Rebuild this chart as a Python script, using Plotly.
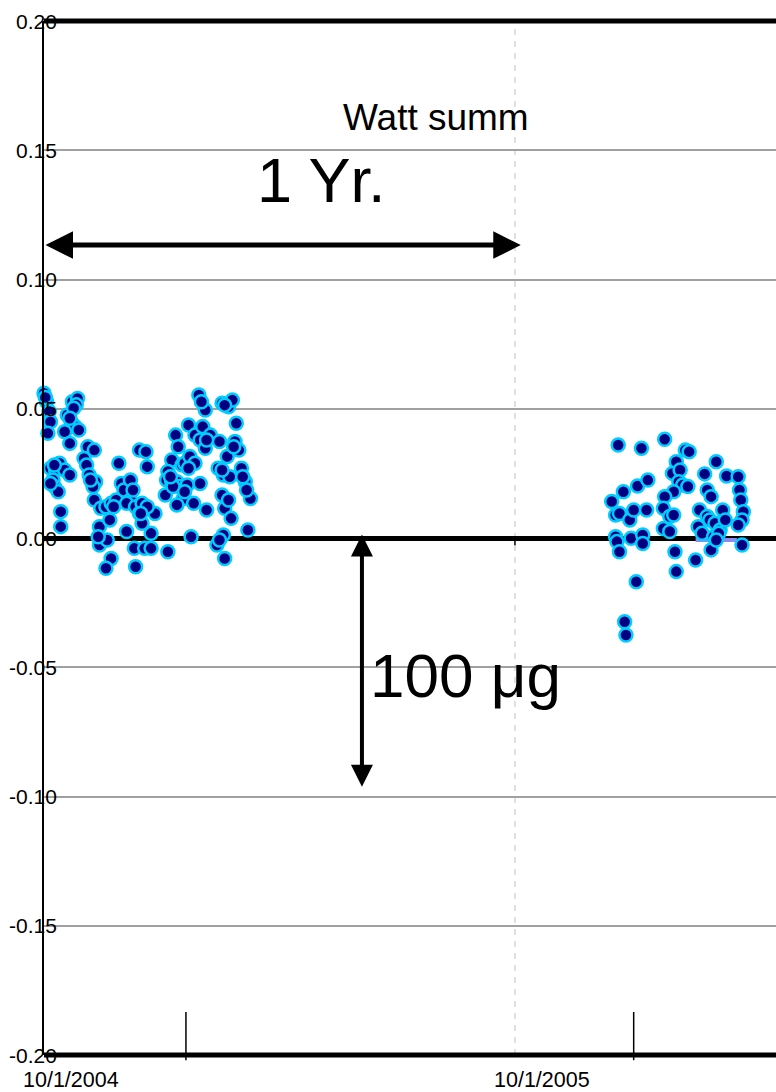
import pandas as pd
import plotly.graph_objects as go

START = pd.Timestamp("2004-10-01")

# ---- data: days since 10/1/2004 and values ----
c1_days = [0, 2, 4, 5, 3, 22, 26, 25, 18, 21, 24, 27, 16, 20, 5, 12, 9, 16, 20, 7, 8, 11, 13, 13,
           34, 39, 31, 33, 35, 40, 38, 39, 44, 43, 43, 48, 52, 56, 51, 49, 52, 48,
           58, 60, 62, 67, 67, 64, 64, 71, 74, 76, 76, 70, 71, 78, 74, 79, 80,
           120, 125, 138, 143, 146, 112, 102, 104, 117, 123, 121, 129, 125, 136,
           149, 148, 151, 142, 135, 139, 144, 153, 156, 160, 157,
           99, 96, 95, 99, 94, 103, 105, 107, 109, 113, 117, 111, 108, 103, 116, 121,
           138, 140, 145, 126, 114, 158, 134, 139, 140, 96, 83, 83, 86, 80,
           1, 23, 20, 36, 8, 5, 42, 54, 69, 75,
           140, 122, 126, 147, 138, 154, 100, 98, 112, 109, 143, 136]
c1_vals = [0.0560, 0.0527, 0.0489, 0.0450, 0.0405, 0.0527, 0.0540, 0.0515, 0.0476, 0.0450, 0.0431, 0.0418,
           0.0411, 0.0366, 0.0270, 0.0289, 0.0263, 0.0263, 0.0244, 0.0224, 0.0199, 0.0179, 0.0102, 0.0044,
           0.0353, 0.0340, 0.0308, 0.0282, 0.0244, 0.0218, 0.0199, 0.0147, 0.0115, 0.0044, -0.0027,
           0.0121, 0.0134, 0.0147, 0.0070, -0.0008, -0.0079, -0.0117,
           0.0289, 0.0211, 0.0186, 0.0224, 0.0147, 0.0134, 0.0025, 0.0121, 0.0095, 0.0134, 0.0057, -0.0040,
           -0.0111, -0.0040, 0.0340, 0.0334, 0.0276,
           0.0553, 0.0495, 0.0521, 0.0508, 0.0534, 0.0437, 0.0398, 0.0353, 0.0398, 0.0431, 0.0379, 0.0398,
           0.0347, 0.0373,
           0.0444, 0.0373, 0.0340, 0.0315, 0.0270, 0.0244, 0.0237, 0.0270, 0.0218, 0.0153, 0.0186,
           0.0302, 0.0257, 0.0224, 0.0218, 0.0166, 0.0218, 0.0199, 0.0282, 0.0289, 0.0315, 0.0289, 0.0205,
           0.0153, 0.0128, 0.0134, 0.0211,
           0.0166, 0.0115, 0.0076, 0.0108, 0.0005, 0.0031, -0.0027, 0.0012, -0.0079, -0.0053, 0.0018,
           -0.0040, 0.0095, 0.0121,
           0.0544, 0.0502, 0.0463, 0.0224, 0.0282, 0.0211, 0.0005, 0.0121, 0.0186, 0.0095,
           0.0514, 0.0527, 0.0379, 0.0353, 0.0263, 0.0237, 0.0199, 0.0237, 0.0270, 0.0179, 0.0147, -0.0008]

c2_days = [445, 463, 481, 497, 500, 490, 487, 493, 492, 495, 499, 488, 481, 480, 485, 488, 480, 485, 489,
           490, 505, 440, 449, 443, 446, 454, 457, 467, 460, 468, 443, 444, 446, 455, 464, 464, 459, 450,
           451, 512, 521, 529, 538, 539, 540, 542, 541, 538, 541, 508, 514, 517, 507, 510, 514, 516, 520,
           524, 526, 528, 519, 523, 517, 521]
c2_vals = [0.0360, 0.0347, 0.0382, 0.0340, 0.0334, 0.0295, 0.0250, 0.0263, 0.0218, 0.0205, 0.0199, 0.0179,
           0.0160, 0.0115, 0.0083, 0.0089, 0.0037, 0.0025, -0.0053, -0.0130, -0.0085, 0.0141, 0.0179,
           0.0089, 0.0095, 0.0070, 0.0108, 0.0108, 0.0201, 0.0224, 0.0005, -0.0014, -0.0053, -0.0001,
           0.0012, -0.0021, -0.0169, -0.0324, -0.0375, 0.0248, 0.0295, 0.0240, 0.0237, 0.0186, 0.0147,
           0.0102, 0.0070, 0.0050, -0.0027, 0.0108, 0.0186, 0.0160, 0.0044, 0.0018, 0.0083, 0.0070,
           0.0057, 0.0031, 0.0108, 0.0070, 0.0005, 0.0018, -0.0046, -0.0008]

mean_days = [505, 537]
mean_vals = [-0.0008, -0.0008]

yellow_days = [-4, -4]
yellow_vals = [0.0627, 0.0387]

y_ticks = [0.20, 0.15, 0.10, 0.05, 0.00, -0.05, -0.10, -0.15, -0.20]
x_label_days = [0, 365]
x_labels = ["10/1/2004", "10/1/2005"]
x_tick_days = [110, 457]

range_days = 567.3
yr_arrow_days = [0, 369.5]
yr_arrow_val = 0.1133
ug_arrow_day = 246.4
ug_arrow_vals = [0.0019, -0.0962]


def d(days):
    return START + pd.to_timedelta(days, unit="D")


FONT = "Liberation Sans, Arial, Helvetica, sans-serif"

fig = go.Figure()

fig.add_trace(go.Scatter(
    x=d(mean_days), y=mean_vals, mode="lines",
    line=dict(color="#8c8cf0", width=4), hoverinfo="skip", showlegend=False))

fig.add_trace(go.Scatter(
    x=d(c1_days + c2_days), y=c1_vals + c2_vals, mode="markers",
    marker=dict(size=13, color="#000080", line=dict(color="#00CCFF", width=2.5)),
    cliponaxis=False, showlegend=False))

fig.add_trace(go.Scatter(
    x=d(yellow_days), y=yellow_vals, mode="markers",
    marker=dict(symbol="square", size=4, color="#FFCC00"),
    cliponaxis=False, showlegend=False))

shapes = []
# dashed vertical line at 10/1/2005
shapes.append(dict(type="line", xref="x", yref="paper", x0=d(365), x1=d(365), y0=0, y1=1,
                   line=dict(color="#c0c0c0", width=1, dash="6px,6px"), layer="below"))
# top and bottom heavy lines
for yp in (0, 1):
    shapes.append(dict(type="line", xref="paper", yref="paper", x0=0, x1=1, y0=yp, y1=yp,
                       line=dict(color="black", width=5), layer="above"))
# vertical tick marks at bottom
for td in x_tick_days:
    shapes.append(dict(type="line", xref="x", yref="paper", x0=d(td), x1=d(td), y0=-0.005, y1=0.0416,
                       line=dict(color="black", width=1.5), layer="above"))
# small tick at zero line under dashed line
shapes.append(dict(type="line", xref="x", yref="y", x0=d(365), x1=d(365), y0=0, y1=-0.0028,
                   line=dict(color="black", width=1.5), layer="above"))

annotations = []
for v in y_ticks:
    annotations.append(dict(xref="paper", yref="y", x=0, y=v, text=f"{v:.2f}", showarrow=False,
                            xanchor="right", yanchor="middle", xshift=15,
                            font=dict(family=FONT, size=21, color="black")))
for dd, lab in zip(x_label_days, x_labels):
    annotations.append(dict(xref="x", yref="paper", x=d(dd), y=0, text=lab, showarrow=False,
                            xanchor="left", yanchor="middle", xshift=-23, yshift=-25,
                            font=dict(family=FONT, size=21.5, color="black")))

annotations.append(dict(xref="paper", yref="paper", x=0.4057, y=0.907, text="Watt summ",
                        showarrow=False, xanchor="left", yanchor="middle",
                        font=dict(family=FONT, size=37, color="black")))
annotations.append(dict(xref="paper", yref="paper", x=0.3785, y=0.846, text="1 Yr.",
                        showarrow=False, xanchor="center", yanchor="middle",
                        font=dict(family=FONT, size=63, color="black")))
annotations.append(dict(xref="paper", yref="paper", x=0.4425, y=0.3675, text="100 μg",
                        showarrow=False, xanchor="left", yanchor="middle",
                        font=dict(family=FONT, size=62, color="black")))

# double arrows
annotations.append(dict(xref="x", yref="y", axref="x", ayref="y",
                        x=d(yr_arrow_days[1]), y=yr_arrow_val,
                        ax=d(yr_arrow_days[0]), ay=yr_arrow_val,
                        text="", showarrow=True, arrowhead=2, startarrowhead=2,
                        arrowside="end+start", arrowwidth=5, arrowsize=1.1, startarrowsize=1.1,
                        arrowcolor="black"))
annotations.append(dict(xref="x", yref="y", axref="x", ayref="y",
                        x=d(ug_arrow_day), y=ug_arrow_vals[1],
                        ax=d(ug_arrow_day), ay=ug_arrow_vals[0],
                        text="", showarrow=True, arrowhead=2, startarrowhead=2,
                        arrowside="end+start", arrowwidth=4, arrowsize=1.1, startarrowsize=1.1,
                        arrowcolor="black"))

fig.update_layout(
    width=776, height=1092,
    margin=dict(l=44, r=0, t=21, b=37),
    paper_bgcolor="white", plot_bgcolor="white",
    showlegend=False,
    shapes=shapes, annotations=annotations,
    xaxis=dict(type="date", range=[START, d(range_days)], showgrid=False, zeroline=False,
               showline=False, showticklabels=False, ticks=""),
    yaxis=dict(range=[-0.20, 0.20], dtick=0.05, tick0=0, showgrid=True, gridcolor="#a0a0a0",
               gridwidth=2, zeroline=True, zerolinecolor="black", zerolinewidth=5,
               showline=True, linecolor="black", linewidth=2, showticklabels=False, ticks=""),
)

fig.write_html("out.html", config={"displayModeBar": False},
               post_script="document.body.style.margin='0';document.body.style.overflow='hidden';")
